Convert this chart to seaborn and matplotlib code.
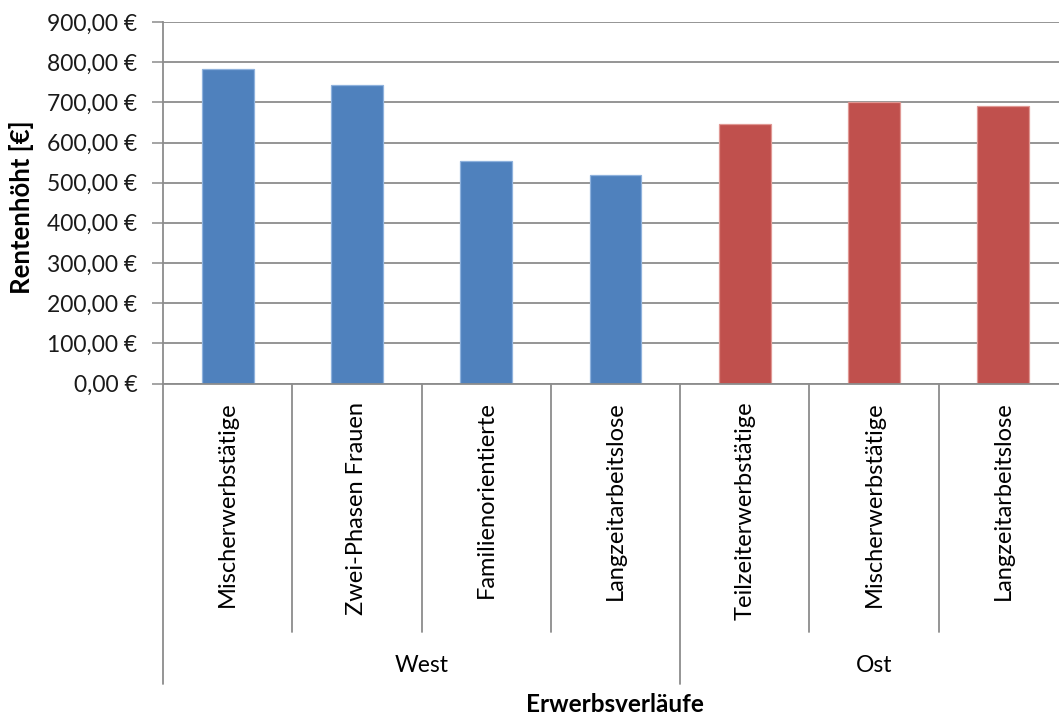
import matplotlib
matplotlib.use("Agg")
import matplotlib.pyplot as plt
import seaborn as sns
import pandas as pd
from matplotlib.ticker import FuncFormatter, MultipleLocator

# Erwerbsverläufe und durchschnittliche Rentenhöhe
categories = ["Mischerwerbstätige", "Zwei-Phasen Frauen", "Familienorientierte",
              "Langzeitarbeitslose", "Teilzeiterwerbstätige", "Mischerwerbstätige",
              "Langzeitarbeitslose"]
regions = ["West", "West", "West", "West", "Ost", "Ost", "Ost"]
pension = [783, 744, 553, 518, 645, 701, 690]
group_names = ["West", "Ost"]
region_colors = {"West": "#4F81BD", "Ost": "#C0504D"}
edge_colors = ["#8FB2DD" if r == "West" else "#E09894" for r in regions]

df = pd.DataFrame({"pos": range(len(categories)), "category": categories,
                   "region": regions, "value": pension})

sns.set_theme(style="white")
plt.rcParams["font.family"] = ["Lato", "DejaVu Sans"]
plt.rcParams["text.color"] = "#000000"

W, H = 1059, 717
fig = plt.figure(figsize=(W / 100, H / 100), dpi=100)
left, right, top, bottom = 163, 1068, 22, 383.5
ax = fig.add_axes([left / W, 1 - bottom / H, (right - left) / W, (bottom - top) / H])

sns.barplot(data=df, x="pos", y="value", hue="region", dodge=False,
            palette=region_colors, width=0.4, ax=ax, legend=False,
            saturation=1)
for patch, ec in zip(ax.patches, edge_colors):
    patch.set_edgecolor(ec)
    patch.set_linewidth(0.9)

n = len(categories)
ax.set_xlim(-0.5, n - 0.5)
ax.set_ylim(0, 900)
ax.yaxis.set_major_locator(MultipleLocator(100))
ax.yaxis.set_major_formatter(FuncFormatter(lambda v, _: f"{v:,.2f}".replace(",", "X").replace(".", ",").replace("X", ".") + " €"))
ax.grid(axis="y", color="#8C8C8C", linewidth=1.3)
ax.set_axisbelow(True)
for s in ["top", "right"]:
    ax.spines[s].set_visible(False)
ax.spines["left"].set_color("#8C8C8C")
ax.spines["left"].set_linewidth(1.3)
ax.spines["bottom"].set_color("#8C8C8C")
ax.spines["bottom"].set_linewidth(1.3)

ax.tick_params(axis="y", left=True, length=8, width=1.1, color="#8C8C8C",
               pad=10.5, labelsize=16.5, labelcolor="#1a1a1a")
ax.set_xticks(range(n))
ax.set_xticklabels(categories, rotation=90, va="top", ha="center")
ax.tick_params(axis="x", length=0, pad=13, labelsize=17, labelcolor="#000000")
ax.set_xlabel("")
ax.set_ylabel("")

# Kategorie- und Gruppentrenner unterhalb der Achse
trans = ax.get_xaxis_transform()
axis_h = bottom - top
inner_end = -(632 - bottom) / axis_h
outer_end = -(684 - bottom) / axis_h
group_y = -(666 - bottom) / axis_h
boundaries = [i - 0.5 for i in range(n + 1)]
group_edges = [-0.5]
for i in range(1, n):
    if regions[i] != regions[i - 1]:
        group_edges.append(i - 0.5)
group_edges.append(n - 0.5)
for b in boundaries:
    end = outer_end if b in group_edges else inner_end
    ax.plot([b, b], [0, end], transform=trans, color="#8C8C8C",
            linewidth=1.3, clip_on=False)
for g, (a, b) in zip(group_names, zip(group_edges[:-1], group_edges[1:])):
    ax.text((a + b) / 2, group_y, g, transform=trans, ha="center",
            va="center", fontsize=16.5)

fig.text(22 / W, 1 - 207 / H, "Rentenhöht [€]", rotation=90, ha="center",
         va="center", fontsize=18.5, fontweight="bold")
fig.text(615 / W, 1 - 704 / H, "Erwerbsverläufe", ha="center", va="center",
         fontsize=17.5, fontweight="bold")

fig.savefig("out.png", dpi=100)
